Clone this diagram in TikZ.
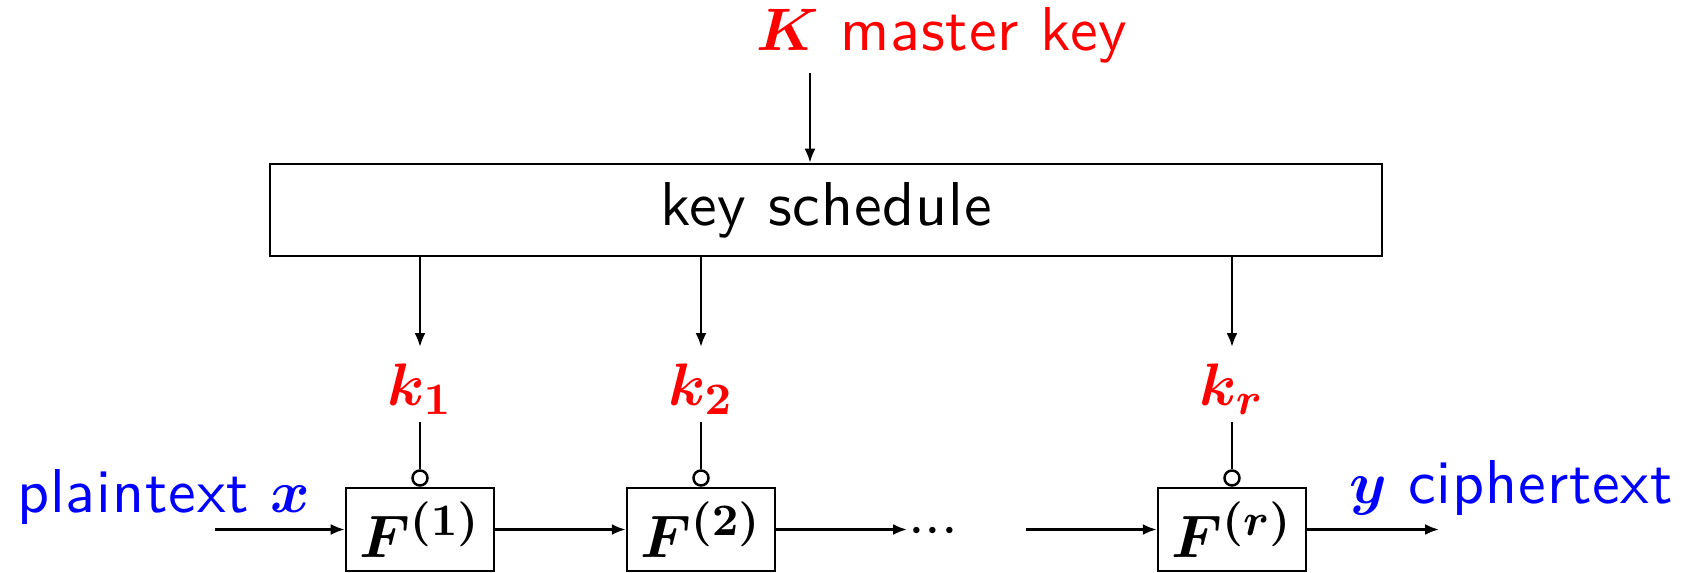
\documentclass[tikz,border=0pt]{standalone}
\usepackage{fontspec}
\usepackage{bm}
\newfontfamily\lblsans{lmsans10-regular.otf}[LetterSpace=1.5]
\usetikzlibrary{arrows.meta,calc}
\begin{document}
\begin{tikzpicture}[x=0.2pt,y=-0.2pt, line width=0.5pt,
  arr/.style={-{Latex[length=2.8pt,width=2.2pt]}},
  lbl/.style={font=\fontsize{12.4}{15}\selectfont\lblsans, inner sep=0pt},
  fbox/.style={draw, minimum width=29.6pt, minimum height=16.6pt, inner sep=0pt, font=\fontsize{12.7}{15}\selectfont},
  ksbox/.style={draw, minimum width=222.4pt, minimum height=18.4pt, inner sep=0pt, font=\fontsize{12.4}{15}\selectfont\lblsans},
  ring/.style={draw, circle, inner sep=0pt, minimum size=3pt, fill=white}]
\useasboundingbox (0,0) rectangle (1684,573);

% master key
\node[lbl, text=red, anchor=base west] (K) at (755,50) {$\bm{K}$ master key};
\coordinate (Ks) at (810,73);
\node[ksbox] (ks) at (826,210) {key schedule};
\draw[arr] (Ks) -- (Ks |- ks.north);

% round boxes
\node[fbox] (F1) at (420,529.5) {$\bm{F^{(1)}}$};
\node[fbox] (F2) at (701,529.5) {$\bm{F^{(2)}}$};
\node[fbox] (Fr) at (1232,529.5) {$\bm{F^{(r)}}$};

% subkeys
\node[lbl, text=red] (k1) at (420,389) {$\bm{k_1}$};
\node[lbl, text=red] (k2) at (701,389) {$\bm{k_2}$};
\node[lbl, text=red] (kr) at (1232,389) {$\bm{k_r}$};
\foreach \n in {1,2,r}{
  \coordinate (k\n t) at ($(k\n)+(0,-42)$);
  \coordinate (k\n b) at ($(k\n)+(0,33)$);
  \node[ring, anchor=south] (r\n) at (F\n.north) {};
  \draw[arr] (ks.south -| k\n t) -- (k\n t);
  \draw (k\n b) -- (r\n.north);
}

% data path
\node[lbl, anchor=base west] (dots) at (907,545) {${\cdot}{\cdot}{\cdot}$};
\coordinate (pin) at (215,529.5);
\coordinate (rin) at (1026,529.5);
\coordinate (pout) at (1439,529.5);
\draw[arr] (pin) -- (F1.west);
\draw[arr] (F1.east) -- (F2.west);
\draw[arr] (F2.east) -- (dots.west |- F2.east);
\draw[arr] (rin) -- (Fr.west);
\draw[arr] (Fr.east) -- (pout);

\node[lbl, text=blue, anchor=base west] (pt) at (16,512) {plaintext $\bm{x}$};
\node[lbl, text=blue, anchor=base west] (ct) at (1348,503) {$\bm{y}$ ciphertext};
\end{tikzpicture}
\end{document}
